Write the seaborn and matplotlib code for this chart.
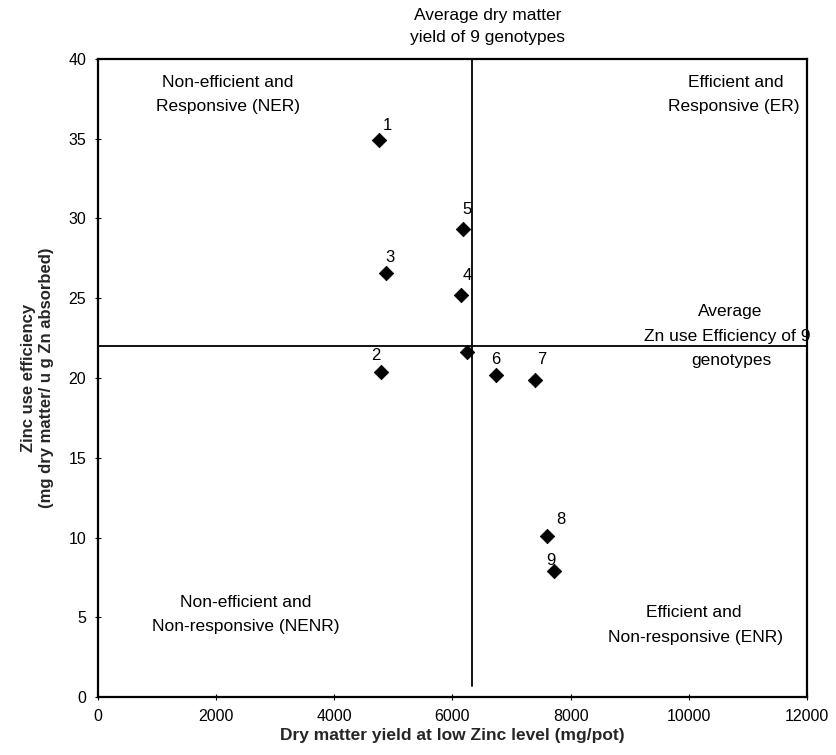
import matplotlib
matplotlib.use("Agg")
import matplotlib.pyplot as plt
import seaborn as sns
import pandas as pd

# ---- data ----
genotype = ['1', '2', '3', '4', '5', '6', '7', '8', '9', '']
dry_matter = [4760, 4790, 4870, 6140, 6170, 6740, 7390, 7600, 7715, 6240]
zn_efficiency = [34.9, 20.4, 26.6, 25.2, 29.35, 20.2, 19.9, 10.1, 7.9, 21.6]
avg_dry_matter = 6330
avg_zn_efficiency = 22.0
x_ticks = [0, 2000, 4000, 6000, 8000, 10000, 12000]
y_ticks = [0, 5, 10, 15, 20, 25, 30, 35, 40]
# label offsets (pixels) for point numbers
label_dx = [8, -5, 4, 6, 4, 0, 7, 14, -3, 0]
label_dy = [15, 16, 15, 20, 19, 15, 20, 16, 10, 0]

df = pd.DataFrame({"genotype": genotype, "dm": dry_matter, "eff": zn_efficiency})

sns.set_theme(style="white")
plt.rcParams['font.family'] = ['Liberation Sans', 'DejaVu Sans']

fig = plt.figure(figsize=(8.36, 7.55), dpi=100)
W, H = 836, 755
left, right, top, bottom = 98, 807, 59, 697
ax = fig.add_axes([left / W, 1 - bottom / H, (right - left) / W, (bottom - top) / H])

sns.scatterplot(data=df, x="dm", y="eff", ax=ax, marker="D", s=55,
                color="black", edgecolor="black", linewidth=0.5, zorder=5)

ax.axvline(avg_dry_matter, color="black", lw=1.3, ymin=0.017, ymax=1, zorder=3)
ax.axhline(avg_zn_efficiency, color="black", lw=1.3, zorder=3)

for g, x, y, dx, dy in zip(genotype, dry_matter, zn_efficiency, label_dx, label_dy):
    if g:
        ax.annotate(g, (x, y), xytext=(dx, dy), textcoords="offset pixels",
                    ha="center", va="center", fontsize=12, color="black")

ax.set_xlim(0, 12000)
ax.set_ylim(0, 40)
ax.set_xticks(x_ticks)
ax.set_yticks(y_ticks)
ax.tick_params(axis="both", which="both", direction="inout", length=5, width=0.8,
               labelsize=11.5, color="black", labelcolor="black", pad=6,
               bottom=True, left=True)
for s in ax.spines.values():
    s.set_color("black")
    s.set_linewidth(1.6)

ax.set_xlabel("Dry matter yield at low Zinc level (mg/pot)", fontsize=12.5,
              fontweight="bold", labelpad=3)
ax.set_ylabel("Zinc use efficiency\n(mg dry matter/ u g Zn absorbed)", fontsize=12,
              fontweight="bold", labelpad=10, linespacing=1.3)

txt = dict(fontsize=12.5, color="black", ha="center", va="center", clip_on=False)
ax.text(6600, 42.7, "Average dry matter", **txt)
ax.text(6600, 41.32, "yield of 9 genotypes", **txt)
ax.text(2200, 38.5, "Non-efficient and", **txt)
ax.text(2200, 37.0, "Responsive (NER)", **txt)
ax.text(10800, 38.5, "Efficient and", **txt)
ax.text(10760, 37.0, "Responsive (ER)", **txt)
ax.text(10700, 24.2, "Average", **txt)
ax.text(10650, 22.63, "Zn use Efficiency of 9", **txt)
ax.text(10720, 21.07, "genotypes", **txt)
ax.text(2500, 5.9, "Non-efficient and", **txt)
ax.text(2500, 4.39, "Non-responsive (NENR)", **txt)
ax.text(10090, 5.27, "Efficient and", **txt)
ax.text(10120, 3.76, "Non-responsive (ENR)", **txt)

fig.savefig("out.png", dpi=100)
